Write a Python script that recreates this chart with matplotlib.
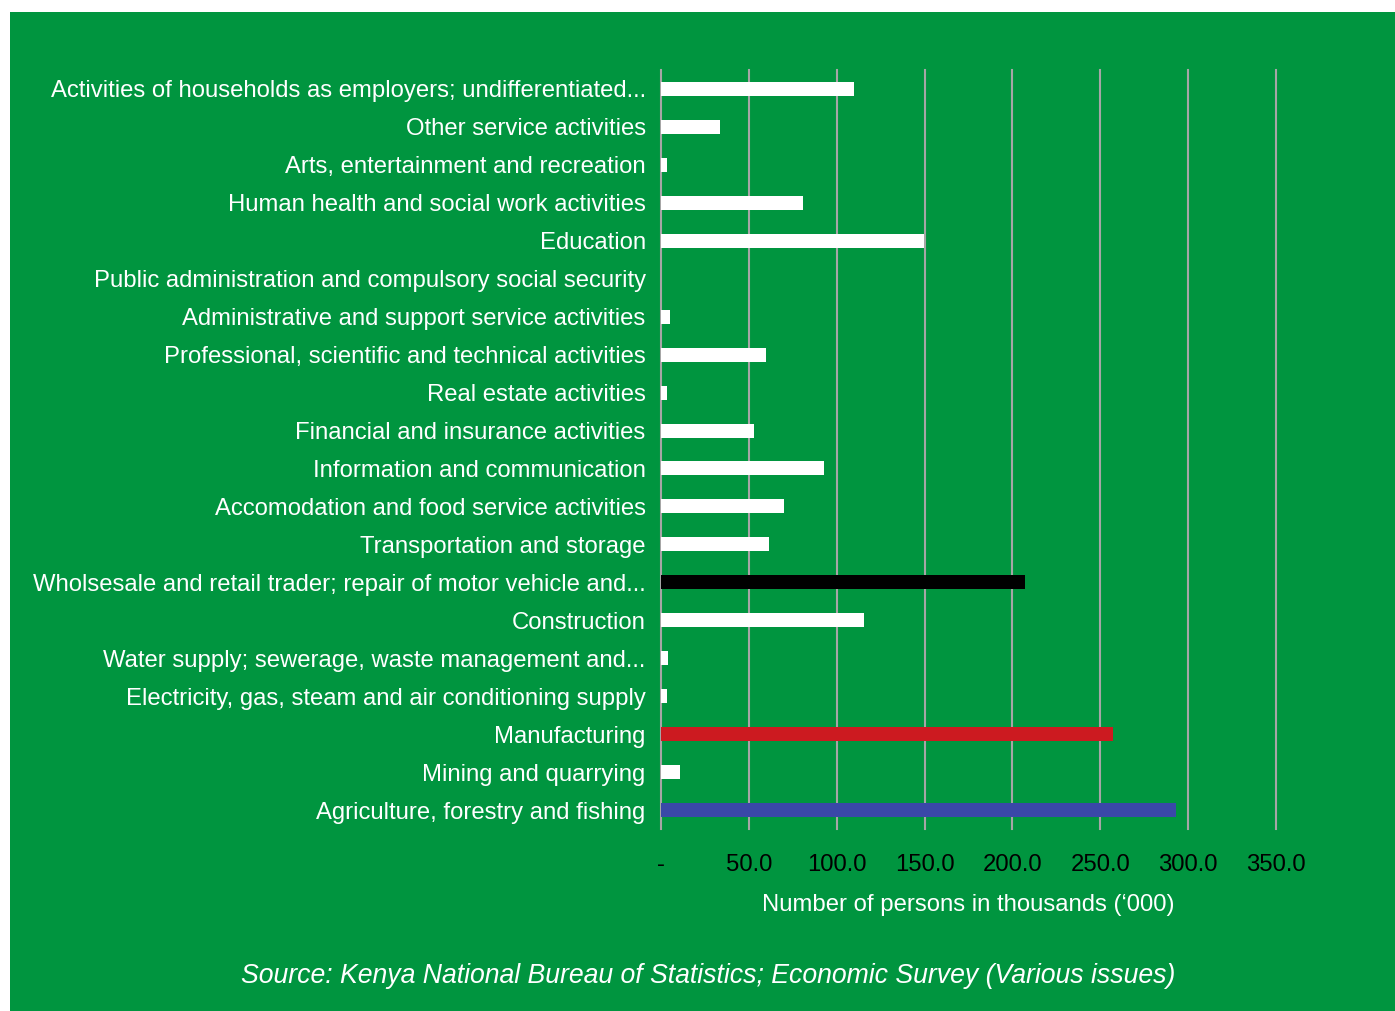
import matplotlib.pyplot as plt
import matplotlib.patches as mpatches
import numpy as np

plt.rcParams['font.family'] = ['Liberation Sans', 'DejaVu Sans']

# Datos (de abajo hacia arriba)
sectores = [
    'Agriculture, forestry and fishing',
    'Mining and quarrying',
    'Manufacturing',
    'Electricity, gas, steam and air conditioning supply',
    'Water supply; sewerage, waste management and...',
    'Construction',
    'Wholsesale and retail trader; repair of motor vehicle and...',
    'Transportation and storage',
    'Accomodation and food service activities',
    'Information and communication',
    'Financial and insurance activities',
    'Real estate activities',
    'Professional, scientific and technical activities',
    'Administrative and support service activities',
    'Public administration and compulsory social security',
    'Education',
    'Human health and social work activities',
    'Arts, entertainment and recreation',
    'Other service activities',
    'Activities of households as employers; undifferentiated...',
]
personas = [293, 11, 257, 3.5, 4, 115.5, 207, 61.5, 70, 92.8, 53, 3.5, 60, 5, 0, 149.4, 81, 3.5, 33.6, 110]
colores_barras = ['#3A48A8', 'white', '#CC1A20', 'white', 'white', 'white', 'black'] + ['white'] * 13

ticks_x = [0, 50, 100, 150, 200, 250, 300, 350]
etiquetas_x = ['-', '50.0', '100.0', '150.0', '200.0', '250.0', '300.0', '350.0']

verde = '#00953F'
W, H = 1395, 1011

fig = plt.figure(figsize=(W / 100, H / 100), dpi=100)
fig.patch.set_facecolor('white')
fondo = mpatches.Rectangle((10 / W, 0), 1 - 10 / W, 1 - 12 / H,
                           transform=fig.transFigure, facecolor=verde,
                           edgecolor='none', zorder=-10)
fig.patches.append(fondo)

ax = fig.add_axes([661 / W, 1 - 829 / H, (1276 - 661) / W, (829 - 70) / H], zorder=1)
ax.patch.set_alpha(0)

y = np.arange(len(sectores))
ax.barh(y, personas, height=0.37, color=colores_barras, zorder=3)

ax.set_xlim(0, 350)
ax.set_ylim(-0.5, len(sectores) - 0.5)
ax.set_xticks(ticks_x)
ax.set_xticklabels(etiquetas_x, fontsize=17.2, color='black')
ax.set_yticks(y)
ax.set_yticklabels(sectores, fontsize=17.2, color='white')
ax.tick_params(axis='x', length=0, pad=18)
ax.tick_params(axis='y', length=0, pad=11)
ax.grid(axis='x', color='#A6A6A6', linewidth=1.5, zorder=1)
ax.set_axisbelow(True)
for gl in ax.get_xgridlines():
    gl.set_clip_on(False)
for s in ax.spines.values():
    s.set_visible(False)

ax.set_xlabel("Number of persons in thousands (\u2018000)", fontsize=17.2, color='white', labelpad=13)

fig.text(708 / W, 1 - 976 / H, 'Source: Kenya National Bureau of Statistics; Economic Survey (Various issues)',
         ha='center', va='center', fontsize=19.2, style='italic', color='white')

fig.savefig('out.png', dpi=100, facecolor=fig.get_facecolor())
